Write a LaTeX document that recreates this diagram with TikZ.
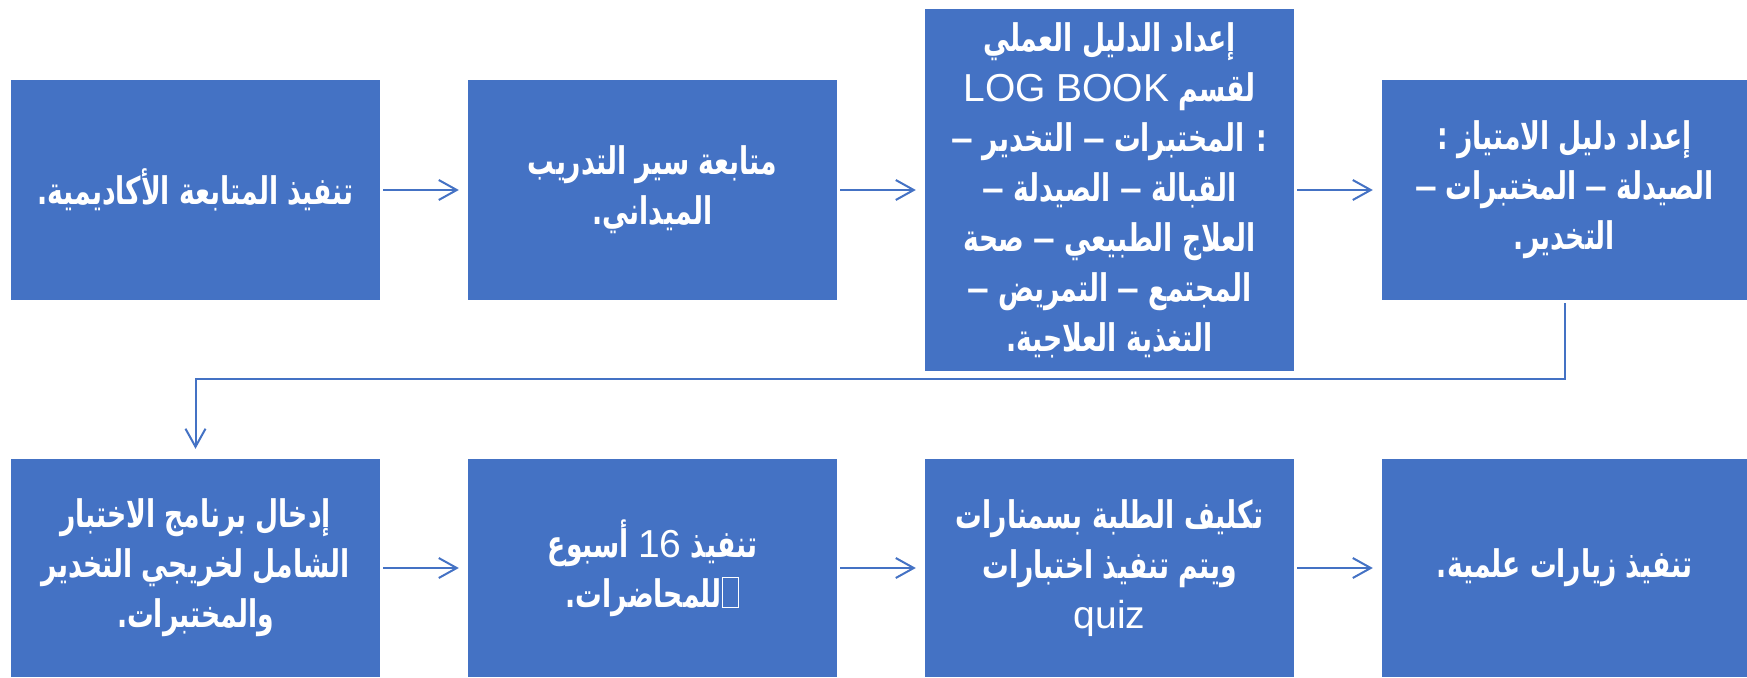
\documentclass[tikz,border=0pt]{standalone}
\usepackage{fontspec}
\setmainfont{Liberation Sans}
\newfontfamily\arabicfont[Script=Arabic,FakeStretch=0.7]{DejaVu Sans}
\TeXXeTstate=1
\usetikzlibrary{arrows.meta}
\definecolor{boxblue}{HTML}{4472C4}
\newcommand\artext[1]{{\arabicfont\bfseries\beginR #1\endR}}
\newcommand\lat[1]{\beginL{\rmfamily\mdseries\fontsize{39}{50}\selectfont #1}\endL{}}
\newcommand\dsh{{\rmfamily\bfseries\fontsize{39}{50}\selectfont –}}
\newcommand\tofu{{\setlength\fboxsep{0pt}\setlength\fboxrule{1.2pt}\fbox{\rule{0pt}{29pt}\hspace{15pt}}}}
\tikzset{
  box/.style={fill=boxblue, draw=none, text=white, align=center, inner sep=0pt,
    font=\fontsize{38}{50}\selectfont},
  conn/.style={draw=boxblue, line width=2pt, -{Straight Barb[length=18pt,width=20pt,line width=2pt]}}
}
\begin{document}
\begin{tikzpicture}[x=1pt,y=-1pt]
\useasboundingbox (0,0) rectangle (1747,677);
% row 1
\node[box, minimum width=369pt, minimum height=220pt] (b1) at (195.5,190)
  {\artext{تنفيذ المتابعة الأكاديمية.}};
\node[box, minimum width=369pt, minimum height=220pt] (b2) at (652.5,190)
  {\artext{متابعة سير التدريب}\\\artext{الميداني.}};
\node[box, minimum width=369pt, minimum height=362pt] (b3) at (1109.5,190)
  {\artext{إعداد الدليل العملي}\\
   \artext{لقسم \lat{LOG BOOK}}\\
   \artext{: المختبرات \dsh{} التخدير \dsh}\\
   \artext{القبالة \dsh{} الصيدلة \dsh}\\
   \artext{العلاج الطبيعي \dsh{} صحة}\\
   \artext{المجتمع \dsh{} التمريض \dsh}\\
   \artext{التغذية العلاجية.}};
\node[box, minimum width=365pt, minimum height=220pt] (b4) at (1564.5,190)
  {\artext{إعداد دليل الامتياز :}\\\artext{الصيدلة \dsh{} المختبرات \dsh}\\\artext{التخدير.}};
% row 2
\node[box, minimum width=369pt, minimum height=218pt] (b5) at (195.5,568)
  {\artext{إدخال برنامج الاختبار}\\\artext{الشامل لخريجي التخدير}\\\artext{والمختبرات.}};
\node[box, minimum width=369pt, minimum height=218pt] (b6) at (652.5,568)
  {\artext{تنفيذ \lat{16} أسبوع}\\\artext{\tofu للمحاضرات.}};
\node[box, minimum width=369pt, minimum height=218pt] (b7) at (1109.5,568)
  {\artext{تكليف الطلبة بسمنارات}\\\artext{ويتم تنفيذ اختبارات}\\{\fontsize{39}{50}\selectfont quiz}};
\node[box, minimum width=365pt, minimum height=218pt] (b8) at (1564.5,568)
  {\artext{تنفيذ زيارات علمية.}};
% connectors
\draw[conn, shorten <=3pt, shorten >=9pt] (b1.east) -- (b2.west);
\draw[conn, shorten <=3pt, shorten >=9pt] (b2.east) -- (b3.west);
\draw[conn, shorten <=3pt, shorten >=9pt] (b3.east) -- (b4.west);
\coordinate (turn) at (0,379);
\draw[conn, shorten <=3pt, shorten >=10pt] (b4.south) -- (b4.south |- turn) -- (b5.north |- turn) -- (b5.north);
\draw[conn, shorten <=3pt, shorten >=9pt] (b5.east) -- (b6.west);
\draw[conn, shorten <=3pt, shorten >=9pt] (b6.east) -- (b7.west);
\draw[conn, shorten <=3pt, shorten >=9pt] (b7.east) -- (b8.west);
\end{tikzpicture}
\end{document}
